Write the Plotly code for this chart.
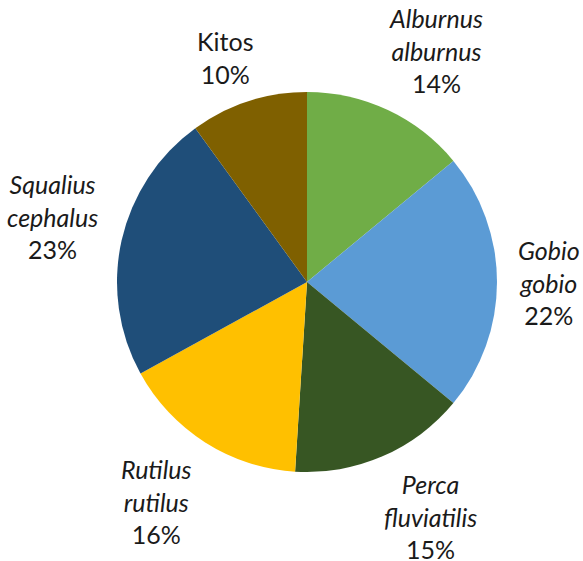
import math
import plotly.graph_objects as go

species = ["Alburnus alburnus", "Gobio gobio", "Perca fluviatilis",
           "Rutilus rutilus", "Squalius cephalus", "Kitos"]
label_lines = [["Alburnus", "alburnus"], ["Gobio", "gobio"], ["Perca", "fluviatilis"],
               ["Rutilus", "rutilus"], ["Squalius", "cephalus"], ["Kitos"]]
italic = [True, True, True, True, True, False]
values = [14, 22, 15, 16, 23, 10]
colors = ["#70AD47", "#5B9BD5", "#375623", "#FFC000", "#1F4E79", "#7F6000"]

W, H = 583, 561
cx, cy, r = 307, 279, 190  # pixels (cy from bottom)
FS = 25
LH = 32.5
R0x, R0y = 212, 202


def text_width(sv):
    w = 0.0
    for ch in sv:
        if ch in "iljtfr":
            w += 0.28
        elif ch == "%":
            w += 0.85
        elif ch.isdigit():
            w += 0.55
        elif ch.isupper():
            w += 0.62
        else:
            w += 0.5
    return w * FS


def g(t):
    return max(-1.0, min(1.0, 2 * t))


fig = go.Figure(go.Pie(
    labels=species, values=values, sort=False, direction="clockwise", rotation=0,
    marker=dict(colors=colors, line=dict(width=0)),
    textinfo="none", hoverinfo="label+percent", showlegend=False,
    domain=dict(x=[(cx - r) / W, (cx + r) / W], y=[(cy - r) / H, (cy + r) / H]),
))

total = sum(values)
cum = 0
for lines, it, v in zip(label_lines, italic, values):
    mid = (cum + v / 2) / total * 2 * math.pi
    cum += v
    pct = round(v / total * 100)
    all_lines = lines + [f"{pct}%"]
    a = max(text_width(sv) for sv in all_lines) / 2
    b = len(all_lines) * LH / 2
    s, c = math.sin(mid), math.cos(mid)
    px = cx + R0x * s + a * g(s)
    py = cy + R0y * c + b * g(c)
    name = "<br>".join(lines)
    if it:
        name = "<i>" + name + "</i>"
    txt = f"{name}<br>{pct}%"
    fig.add_annotation(
        x=px / W, y=py / H,
        xref="paper", yref="paper", text=txt, showarrow=False,
        xanchor="center", yanchor="middle", align="center",
        font=dict(family="Lato", size=FS, color="#1a1a1a"),
    )

fig.update_layout(width=W, height=H, margin=dict(l=0, r=0, t=0, b=0),
                  paper_bgcolor="white", plot_bgcolor="white")
fig.write_html("out.html")
